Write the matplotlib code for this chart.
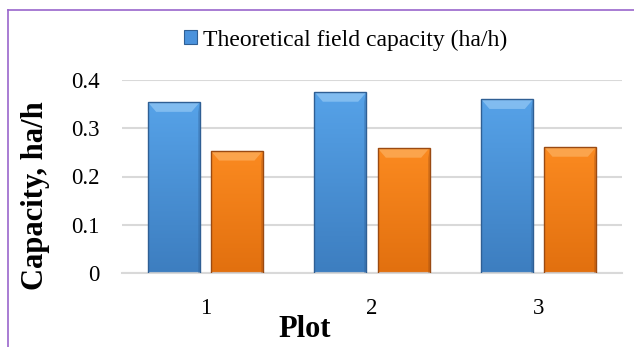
import numpy as np
import matplotlib.pyplot as plt
from matplotlib.patches import Polygon, Patch
from matplotlib.colors import LinearSegmentedColormap
from matplotlib.lines import Line2D

plots = ["1", "2", "3"]
theoretical = [0.354, 0.375, 0.360]
actual = [0.253, 0.259, 0.261]
y_ticks = [0, 0.1, 0.2, 0.3, 0.4]
y_tick_labels = ["0", "0.1", "0.2", "0.3", "0.4"]

plt.rcParams['font.family'] = ['Liberation Serif', 'DejaVu Serif']


def bevel_bars(ax, x, heights, top, bottom, bevel, edge):
    """Bars with a vertical gradient and a light bevel on the top face."""
    bars = ax.bar(x, heights, width=0.312, color="none", edgecolor=edge,
                  linewidth=1.0, zorder=3)
    cmap = LinearSegmentedColormap.from_list("g", [bottom, top])
    grad = np.linspace(0, 1, 64).reshape(-1, 1)
    dx, dy = 0.05, 0.02
    for rect in bars:
        x0, w, h = rect.get_x(), rect.get_width(), rect.get_height()
        im = ax.imshow(grad, cmap=cmap, origin="lower", aspect="auto",
                       extent=(x0, x0 + w, 0, h), zorder=2)
        im.set_clip_path(rect)
        face = Polygon([(x0, h), (x0 + w, h), (x0 + w - dx, h - dy),
                        (x0 + dx, h - dy)], closed=True, facecolor=bevel,
                       edgecolor="none", alpha=0.7, zorder=2.5)
        ax.add_patch(face)
        side = Polygon([(x0 + w, h), (x0 + w, 0), (x0 + w - 0.012, 0),
                        (x0 + w - 0.012, h - dy)], closed=True,
                       facecolor=edge, edgecolor="none", alpha=0.3, zorder=2.6)
        ax.add_patch(side)
    return bars


fig = plt.figure(figsize=(6.34, 3.47), dpi=100)
ax = fig.add_axes([122 / 634, 74 / 347, 500 / 634, 193 / 347])

x = np.arange(len(plots))
off = 0.189
bevel_bars(ax, x - off, theoretical, "#56a2e8", "#3d7ec0", "#94c8f4", "#2f5f94")
bevel_bars(ax, x + off, actual, "#fb8a20", "#e2700f", "#fcb060", "#9a4a12")

ax.set_xlim(-0.5, 2.5)
ax.set_ylim(0, 0.4)
ax.set_yticks(y_ticks)
ax.set_yticklabels(y_tick_labels)
ax.set_xticks(x)
ax.set_xticklabels(plots)
ax.tick_params(axis="y", length=0, pad=16, labelsize=16.5)
ax.tick_params(axis="x", length=0, pad=18, labelsize=16.5)
ax.grid(axis="y", color="#d9d9d9", linewidth=1.5, zorder=0)
ax.set_axisbelow(True)
for s in ["top", "right", "left"]:
    ax.spines[s].set_visible(False)
ax.spines["bottom"].set_color("#d9d9d9")
ax.spines["bottom"].set_linewidth(1.5)

ax.set_ylabel("Capacity, ha/h", fontsize=22, fontweight="bold", va="center")
ax.yaxis.set_label_coords(-0.172, 0.40)
ax.set_xlabel("Plot", fontsize=22, fontweight="bold", va="center")
ax.xaxis.set_label_coords(0.366, -0.295)

handle = Patch(facecolor="#4a92dc", edgecolor="#2f5f94", linewidth=0.8)
fig.legend([handle], ["Theoretical field capacity (ha/h)"], loc="center",
           bbox_to_anchor=(346 / 634, 1 - 40 / 347), frameon=False,
           fontsize=17, handlelength=0.55, handleheight=0.55,
           handletextpad=0.25, borderpad=0)

# chart frame
purple = "#9966cc"
fig.add_artist(Line2D([8 / 634, 1], [1 - 10 / 347] * 2, color=purple,
                      linewidth=1.2, transform=fig.transFigure))
fig.add_artist(Line2D([8 / 634] * 2, [0, 1 - 10 / 347], color=purple,
                      linewidth=1.2, transform=fig.transFigure))

fig.savefig("out.png", dpi=100)
